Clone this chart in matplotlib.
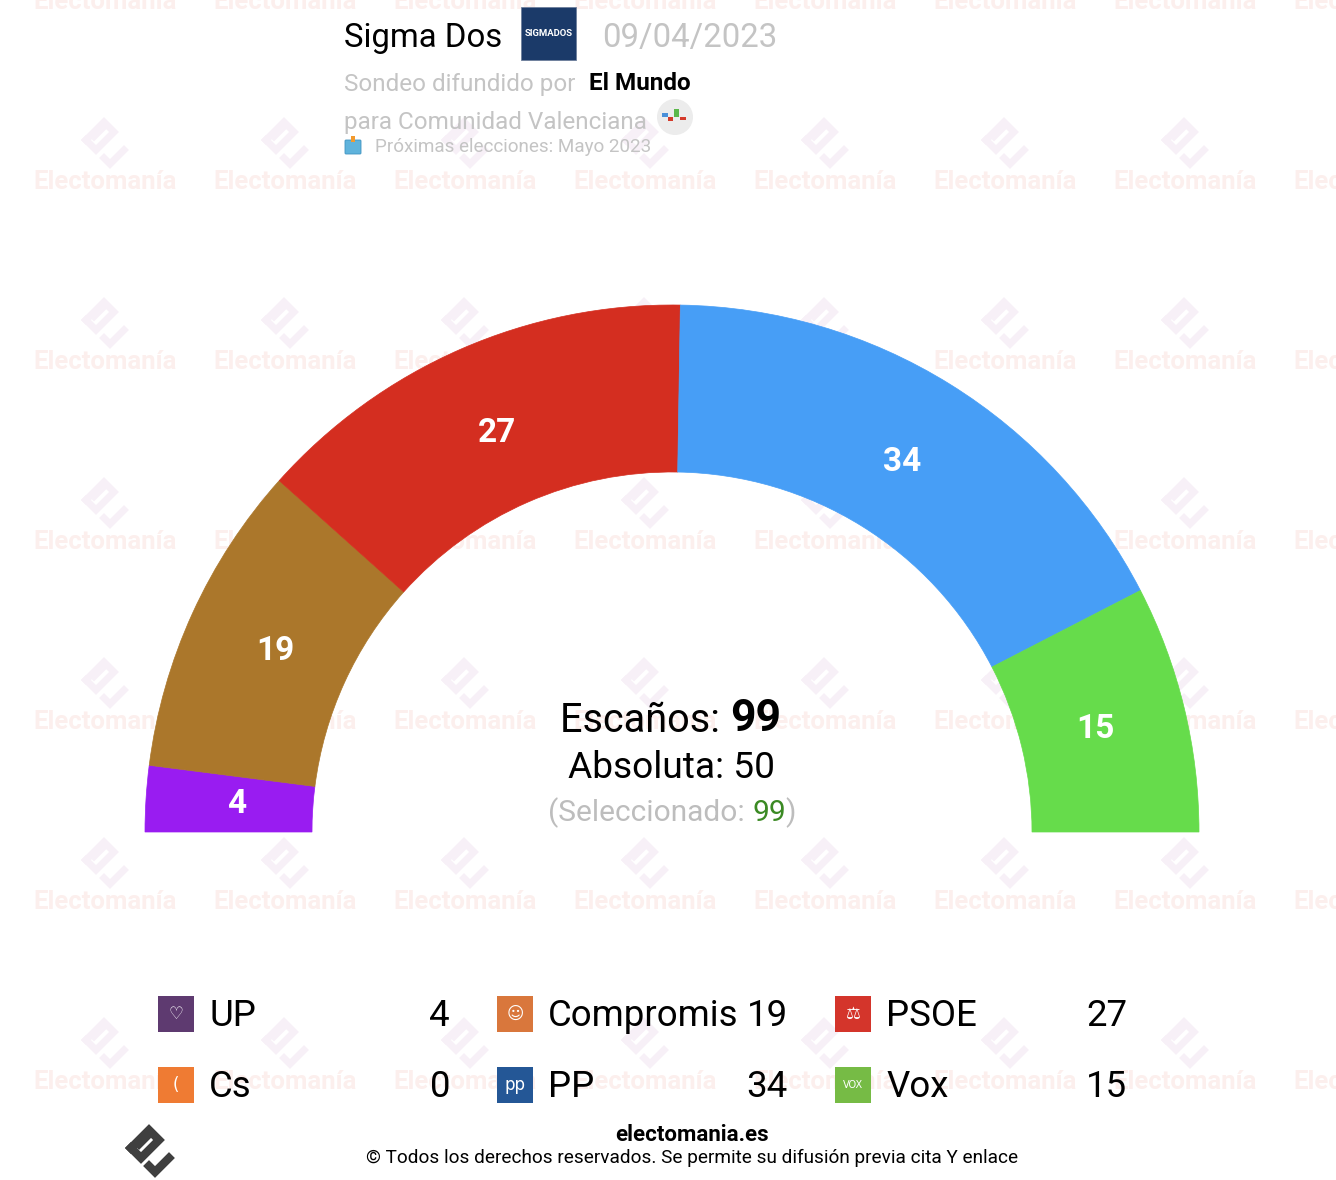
import matplotlib
matplotlib.use("Agg")
import matplotlib.pyplot as plt
from matplotlib import patches
import numpy as np

plt.rcParams["font.family"] = ["Roboto", "DejaVu Sans"]

# data
arc_parties = ["UP", "Cs", "Compromis", "PSOE", "PP", "Vox"]
arc_seats = [4, 0, 19, 27, 34, 15]
arc_colors = ["#991cf1", "#f07a30", "#ab772b", "#d42e20", "#479ef6", "#66dc4b"]

legend_parties = ["UP", "Cs", "Compromis", "PP", "PSOE", "Vox"]
legend_seats = [4, 0, 19, 34, 27, 15]
legend_colors = ["#5e3a70", "#ef7b33", "#d9773c", "#245796", "#d4352b", "#76bb45"]
legend_glyphs = ["\u2661", "(", "\u263a", "pp", "\u2696", "VOX"]

total = sum(arc_seats)
majority = total // 2 + 1

W, H = 1336, 1180
fig = plt.figure(figsize=(W / 100, H / 100), dpi=100)
ax = fig.add_axes([0, 0, 1, 1])
ax.set_xlim(0, W)
ax.set_ylim(H, 0)
ax.axis("off")


def logo(x, y, s, col, lw, z):
    # rotated box with a slot and a tick, like the electomania mark
    box = np.array([[-19, -4], [-1, -22], [9, -12], [-9, 6], [-19, -4]]) * s
    ax.plot(x + box[:, 0], y + box[:, 1], color=col, lw=lw, zorder=z,
            solid_joinstyle="miter")
    tick = np.array([[-1, 14], [5, 20], [19, 6]]) * s
    ax.plot(x + tick[:, 0], y + tick[:, 1], color=col, lw=lw, zorder=z,
            solid_joinstyle="miter")
    slot = np.array([[-11, -5], [0, -16]]) * s
    ax.plot(x + slot[:, 0], y + slot[:, 1], color=col, lw=lw * 0.5, zorder=z)


# watermark grid
wm_text = "#fcefed"
wm_logo = "#f7f0f7"
for gx in range(105, W + 100, 180):
    for gy in range(2, 1100, 180):
        ax.text(gx, gy, "Electomanía", ha="center", va="center", fontsize=18.5,
                fontweight="bold", color=wm_text, zorder=0)
        if gy > 100:
            logo(gx, gy - 38, 1.0, wm_logo, 5, 0)

# hemicycle
cx, cy = 672, 832
r_out, r_in = 527, 360
cum = 0
for name, s, col in zip(arc_parties, arc_seats, arc_colors):
    if s == 0:
        continue
    a0 = 180 + cum / total * 180
    a1 = 180 + (cum + s) / total * 180
    ax.add_patch(patches.Wedge((cx, cy), r_out, a0, a1, width=r_out - r_in,
                               facecolor=col, edgecolor=col, lw=0.5, zorder=2))
    am = np.radians((a0 + a1) / 2)
    rl = 436
    ax.text(cx + rl * np.cos(am), cy + rl * np.sin(am), str(s), ha="center",
            va="center", fontsize=24, fontweight="bold", color="white", zorder=3)
    cum += s

# centre text
t1 = ax.text(560, 720, "Escaños: ", ha="left", va="center", fontsize=28.5, zorder=3)
fig.canvas.draw()
x_end = t1.get_window_extent().x1
ax.text(x_end, H - 719, str(total), transform=None, ha="left", va="center",
        fontsize=32, fontweight="bold", zorder=3)
ax.text(672, 768, f"Absoluta: {majority}", ha="center", va="center", fontsize=26.7,
        zorder=3)
t2 = ax.text(548, 813, "(Seleccionado: ", ha="left", va="center", fontsize=21.5,
             color="#bdbdbd", zorder=3)
fig.canvas.draw()
x2 = t2.get_window_extent().x1
t3 = ax.text(x2, H - 813, str(total), transform=None, ha="left", va="center",
             fontsize=21.5, color="#3b8a24", zorder=3)
fig.canvas.draw()
x3 = t3.get_window_extent().x1
ax.text(x3, H - 813, ")", transform=None, ha="left", va="center", fontsize=21.5,
        color="#bdbdbd", zorder=3)

# header
ax.text(344, 38, "Sigma Dos", ha="left", va="center", fontsize=23.7, color="black")
ax.add_patch(patches.Rectangle((521, 7), 55, 53, facecolor="#1b3a69",
                               edgecolor="#6d7f9c", lw=0.6))
ax.text(548.5, 34, "SIGMADOS", ha="center", va="center", fontsize=6.8,
        fontweight="bold", color="white")
ax.text(602, 38, "09/04/2023", ha="left", va="center", fontsize=23.7, color="#c4c4c4")
ax.text(344, 84, "Sondeo difundido por", ha="left", va="center", fontsize=17.5,
        color="#c4c4c4")
ax.text(589, 84, "El Mundo", ha="left", va="center", fontsize=17.5,
        fontweight="bold", color="black")
ax.text(344, 122, "para Comunidad Valenciana", ha="left", va="center",
        fontsize=17.5, color="#c4c4c4")
ax.add_patch(patches.Circle((675, 117), 18, facecolor="#ececec", edgecolor="none"))
ax.add_patch(patches.Rectangle((662, 113), 6, 4, facecolor="#4a90d9"))
ax.add_patch(patches.Rectangle((668, 117), 5, 4, facecolor="#d43a2a"))
ax.add_patch(patches.Rectangle((674, 109), 5, 8, facecolor="#5bb84a"))
ax.add_patch(patches.Rectangle((680, 117), 6, 3, facecolor="#d43a2a"))
ax.add_patch(patches.FancyBboxPatch((346, 141), 14, 12, boxstyle="round,pad=1",
                                    facecolor="#5fb3dc", edgecolor="#3f93c0", lw=0.6))
ax.add_patch(patches.Rectangle((351, 136), 4, 6, facecolor="#f29a2e"))
ax.text(375, 147, "Próximas elecciones: Mayo 2023", ha="left", va="center",
        fontsize=13.6, color="#c4c4c4")

# legend
col_x = [158, 497, 835]
num_x = [450, 788, 1127]
row_y = [1014, 1085]
for i, (name, s, col, g) in enumerate(zip(legend_parties, legend_seats,
                                           legend_colors, legend_glyphs)):
    c, r = i // 2, i % 2
    x0, y0 = col_x[c], row_y[r]
    ax.add_patch(patches.Rectangle((x0, y0 - 18), 36, 36, facecolor=col,
                                   edgecolor="none", zorder=2))
    gs = 7 if len(g) == 3 else 12
    ax.text(x0 + 18, y0, g, ha="center", va="center", fontsize=gs, color="white",
            family=["DejaVu Sans"], zorder=3)
    ax.text(x0 + 51, y0 + 2, name, ha="left", va="center", fontsize=26.4,
            color="black", zorder=3)
    ax.text(num_x[c], y0 + 2, str(s), ha="right", va="center", fontsize=26.4,
            color="black", zorder=3)

# footer
ax.text(692, 1135, "electomania.es", ha="center", va="center", fontsize=16,
        fontweight="bold", color="black")
ax.text(692, 1158, "© Todos los derechos reservados. Se permite su difusión previa cita Y enlace",
        ha="center", va="center", fontsize=13.7, color="black")
logo(150, 1152, 1.0, "#3f3f3f", 6, 3)

fig.savefig("out.png", dpi=100, facecolor="white")
